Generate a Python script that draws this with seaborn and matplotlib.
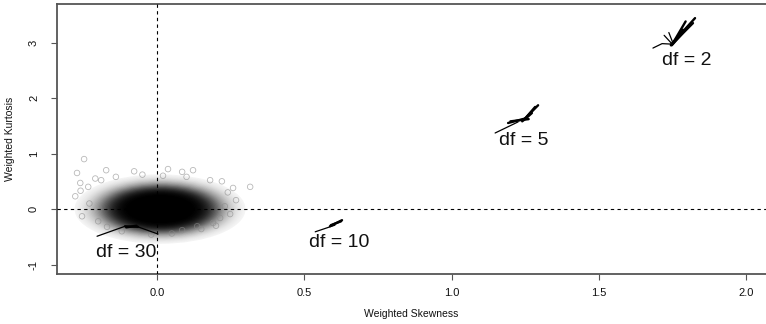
import numpy as np
import pandas as pd
import matplotlib
matplotlib.use("Agg")
import matplotlib.pyplot as plt
from matplotlib.patches import Ellipse
import seaborn as sns

# ---- data -----------------------------------------------------------------
# Bulk of the df = 30 cloud: centre and spread (skewness, kurtosis)
cloud_center = (0.01, 0.0)
cloud_sd = (0.088, 0.19)

# Sparse points around the edge of the cloud
stray_skew = [-0.248, -0.272, -0.173, -0.078, 0.037, 0.085, 0.122, 0.316,
              -0.261, -0.278, -0.234, 0.258, 0.268, 0.248, 0.214, -0.255,
              -0.170, 0.085, 0.136, 0.190, -0.21, 0.22, -0.12, 0.15,
              -0.19, -0.14, -0.05, 0.02, 0.10, 0.18, 0.24, -0.23,
              -0.20, 0.20, 0.23, -0.26, 0.05, -0.02]
stray_kurt = [0.90, 0.65, 0.70, 0.68, 0.72, 0.67, 0.70, 0.40,
              0.47, 0.23, 0.40, 0.38, 0.16, -0.09, -0.16, -0.13,
              -0.32, -0.38, -0.31, -0.25, 0.55, 0.50, -0.40, -0.36,
              0.52, 0.58, 0.62, 0.60, 0.58, 0.52, 0.30, 0.10,
              -0.22, -0.30, 0.05, 0.33, -0.44, -0.46]

# Convergence paths of the weighted moments, one group per df
paths = {
    "df = 2": [
        ([1.684, 1.715, 1.752], [2.90, 2.98, 2.97]),
        ([1.722, 1.748], [3.13, 2.98]),
        ([1.738, 1.752], [3.18, 2.99]),
        ([1.745, 1.827], [2.96, 3.44]),
        ([1.745, 1.820], [2.95, 3.35]),
        ([1.748, 1.806], [2.95, 3.30]),
        ([1.750, 1.786], [2.97, 3.23]),
        ([1.752, 1.795], [2.99, 3.38]),
    ],
    "df = 5": [
        ([1.148, 1.226], [1.37, 1.57]),
        ([1.192, 1.256], [1.55, 1.64]),
        ([1.200, 1.262], [1.58, 1.62]),
        ([1.240, 1.294], [1.58, 1.87]),
        ([1.245, 1.284], [1.60, 1.84]),
        ([1.250, 1.273], [1.62, 1.73]),
    ],
    "df = 10": [
        ([0.537, 0.604], [-0.41, -0.29]),
        ([0.587, 0.628], [-0.31, -0.20]),
        ([0.590, 0.625], [-0.29, -0.22]),
    ],
    "df = 30": [
        ([-0.204, -0.109], [-0.49, -0.31]),
        ([-0.065, 0.003], [-0.32, -0.45]),
        ([-0.109, -0.065], [-0.31, -0.32]),
        ([-0.105, -0.070], [-0.33, -0.30]),
    ],
}
# number of leading thin strands in each group (the rest form the thick core)
thin_count = {"df = 2": 3, "df = 5": 1, "df = 10": 1, "df = 30": 2}

label_text = ["df = 2", "df = 5", "df = 10", "df = 30"]
label_x = [1.80, 1.246, 0.618, -0.105]
label_y = [2.68, 1.24, -0.60, -0.79]

x_ticks = [0.0, 0.5, 1.0, 1.5, 2.0]
y_ticks = [-1, 0, 1, 2, 3]

# ---- figure ---------------------------------------------------------------
sns.set_style("ticks")
plt.rcParams["font.family"] = ["Liberation Sans", "DejaVu Sans"]

W, H = 766, 324
fig = plt.figure(figsize=(W / 100, H / 100), dpi=100)
ax = fig.add_axes([57 / W, 50 / H, 1 - 57 / W, 270 / H])
ax.set_xlim(-0.34, 2.068)
ax.set_ylim(-1.17, 3.694)

# dense cloud: nested translucent ellipses approximating point saturation
radii = np.linspace(3.3, 0.05, 60)
target = np.clip(1 - np.exp(-10 * np.exp(-radii ** 2 / 2)), 0, 0.999)
prev = 0.0
for r, t in zip(radii, target):
    a = 1 - (1 - t) / (1 - prev)
    prev = t
    ax.add_patch(Ellipse(cloud_center, 2 * r * cloud_sd[0], 2 * r * cloud_sd[1],
                         facecolor="black", edgecolor="none", alpha=float(a),
                         zorder=2))

sns.scatterplot(x=stray_skew, y=stray_kurt, ax=ax, s=16, marker="o",
                facecolor="none", edgecolor="#8a8a8a", linewidth=0.6,
                alpha=0.6, zorder=3)

for name, strands in paths.items():
    for i, (xs, ys) in enumerate(strands):
        df_line = pd.DataFrame({"skew": xs, "kurt": ys})
        sns.lineplot(data=df_line, x="skew", y="kurt", ax=ax, sort=False,
                     estimator=None, color="black",
                     linewidth=0.9 if i < thin_count[name] else 1.7, zorder=4)

for t, x, y in zip(label_text, label_x, label_y):
    ax.text(x, y, t, ha="center", va="center", fontsize=14, color="#111111",
            zorder=5)

ax.axhline(0, color="black", linestyle=(0, (3, 3)), linewidth=0.8, zorder=6)
ax.axvline(0, color="black", linestyle=(0, (3, 3)), linewidth=0.8, zorder=6)

ax.set_xticks(x_ticks)
ax.set_xticklabels([f"{v:.1f}" for v in x_ticks])
ax.set_yticks(y_ticks)
ax.set_yticklabels([str(v) for v in y_ticks], rotation=90, va="center")
ax.tick_params(axis="both", length=4, width=0.8, color="#555555",
               labelsize=8, labelcolor="#111111")
ax.tick_params(axis="x", pad=6)
ax.tick_params(axis="y", pad=9)

for side in ["left", "bottom", "top"]:
    ax.spines[side].set_color("#555555")
    ax.spines[side].set_linewidth(1.3)
ax.spines["right"].set_visible(False)

ax.set_xlabel("Weighted Skewness", fontsize=7.5, color="#111111", labelpad=8)
ax.set_ylabel("Weighted Kurtosis", fontsize=7.5, color="#111111", labelpad=10)

fig.savefig("out.png", dpi=100)
